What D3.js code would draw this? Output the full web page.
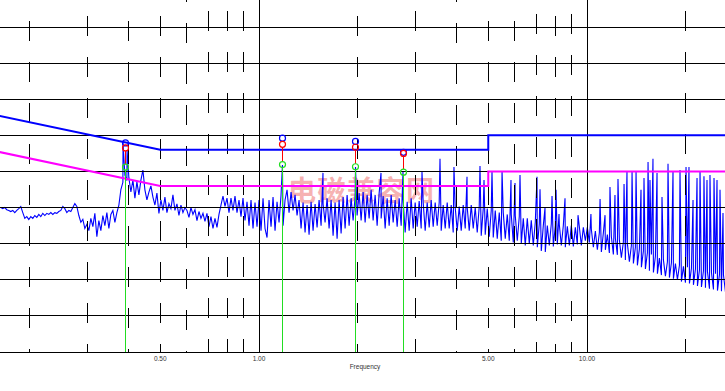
<!DOCTYPE html>
<html><head><meta charset="utf-8">
<script src="https://cdn.jsdelivr.net/npm/d3@7/dist/d3.min.js"></script>
<style>html,body{margin:0;padding:0;background:#fff;overflow:hidden}</style>
</head><body>
<svg id="chart" width="725" height="391"></svg>
<script>
// ---------- data ----------
// receiver sweep: 378 log-spaced points from 0.15 MHz to 30 MHz, level in dBµV
const sweepStartMHz = 0.15, sweepStopMHz = 30, sweepPoints = 378;
const spectrumDb = [
39.7,39.7,40.0,39.7,40.0,40.0,40.0,39.7,40.0,39.4,
39.2,38.9,39.2,38.6,39.2,39.7,40.3,38.6,37.0,37.5,
36.7,37.5,37.0,37.8,37.3,38.1,37.5,38.4,37.8,38.4,
38.1,38.6,38.1,38.6,38.4,38.9,39.2,40.3,39.7,38.6,
39.2,38.9,40.0,41.1,40.3,37.8,35.9,36.7,34.2,35.3,
33.6,37.0,34.7,38.4,31.9,36.4,33.6,37.8,35.0,38.6,
34.2,38.1,39.2,35.9,38.6,40.7,45.0,47.0,49.0,47.5,
48.2,44.3,47.6,42.6,47.1,43.5,47.6,50.4,44.9,42.1,
44.3,46.0,42.9,40.7,44.0,38.4,42.1,39.2,42.9,38.6,
41.1,39.7,43.5,39.2,41.0,37.8,40.7,38.6,40.0,39.2,
37.3,40.0,38.1,39.4,36.4,38.9,37.0,38.4,36.2,38.4,
34.7,37.5,34.2,37.0,34.5,38.1,40.7,43.2,40.3,42.6,
38.6,42.6,39.2,43.2,38.6,42.1,37.5,42.6,36.4,41.6,
35.0,42.1,34.2,41.4,34.7,42.1,33.6,42.6,34.2,31.7,
42.1,34.7,42.9,33.6,41.6,35.9,43.5,35.0,42.1,44.9,
38.6,44.3,39.2,43.5,37.8,42.1,34.2,41.4,33.1,40.7,
32.5,41.6,33.6,41.0,34.5,42.1,35.0,41.0,35.9,42.6,
34.2,42.1,32.2,41.4,31.4,42.1,32.8,42.9,34.2,43.5,
35.0,42.6,36.4,43.0,37.8,44.0,36.4,44.3,35.9,43.5,
37.0,44.9,36.4,43.5,35.0,44.0,37.0,43.2,34.2,42.6,
35.0,43.5,35.9,42.1,34.7,42.6,35.0,42.1,33.1,41.6,
33.6,42.6,34.2,41.4,34.7,41.8,34.2,41.4,33.6,41.4,
34.5,42.1,34.7,41.4,35.0,41.4,33.6,40.7,34.2,41.4,
34.2,40.7,33.1,40.0,33.6,40.3,33.6,40.7,34.2,40.0,
33.6,40.7,34.2,40.0,33.1,40.3,32.2,39.7,32.5,39.7,
31.9,39.2,31.7,39.2,31.4,38.6,30.8,38.6,31.4,38.1,
30.8,38.1,30.3,37.8,30.8,37.5,30.0,37.0,29.5,37.0,
30.0,36.5,29.5,36.0,29.0,35.5,28.0,35.0,27.7,35.0,
29.5,35.5,29.2,35.0,29.8,35.3,29.5,35.0,29.0,34.8,
29.5,35.0,29.2,34.5,29.8,34.7,29.5,34.5,30.8,34.5,
30.3,34.0,29.0,33.5,28.3,33.0,27.7,33.0,28.3,32.5,
27.4,32.0,27.0,31.5,26.9,31.0,26.1,30.5,25.5,30.0,
25.0,29.5,24.5,29.0,24.0,28.5,23.5,28.0,23.0,27.5,
22.5,27.0,22.0,26.5,21.7,26.0,21.3,25.5,21.0,25.0,
20.6,24.7,20.3,24.5,20.0,24.0,19.5,23.7,19.2,23.5,
19.0,23.2,18.6,23.0,18.3,22.7,18.0,22.5,17.8,22.3,
17.5,22.0,17.3,21.7,17.0,21.5,16.8,21.3,16.6,21.0,
16.5,20.8,16.3,20.6,16.1,20.4,16.0,20.2
];
// narrow emission peaks (harmonics) on top of the sweep
const spikeFreq = [0.385,0.396,1.179,1.567,1.969,2.355,2.748,3.140,3.563,3.930,
  4.307,4.718,4.853,5.133,5.508,5.865,6.033,6.248,7.041,7.190,
  7.447,7.823,8.046,8.216,8.570,9.389,10.28,10.96,11.35,11.75,
  12.17,12.43,12.97,13.24,13.72,14.11,14.61,14.92,15.35,15.56,
  15.89,16.35,16.93,17.66,18.29,19.21,20.04,20.46,21.05,21.65,
  22.11,22.73,23.22,23.71,24.39,24.91,25.44,25.98];
const spikeDb = [57.9,55.9,51.8,49.6,51.2,49.6,49.9,49.9,53.5,51.2,
  48.5,51.5,47.6,50.1,50.1,47.6,46.8,49.0,48.5,45.1,
  39.9,43.2,44.9,38.2,42.6,37.9,38.2,42.4,37.9,45.7,
  43.5,47.9,46.5,49.9,49.9,49.9,44.9,48.2,52.6,47.6,
  53.5,49.6,42.9,52.1,50.1,50.4,51.2,51.2,42.1,48.2,
  50.1,48.7,47.6,49.0,48.2,47.6,44.9,38.5];
// CISPR 22 class B limits
const limitFreq = [0.15, 0.5, 5, 5, 30];
const qpLimitDb = [66, 56, 56, 60, 60];
const avLimitDb = [56, 46, 46, 50, 50];
// final measurement markers
const markerFreq = [0.391, 1.178, 1.966, 2.75];
const peakDb = [57.9, 59.2, 58.3, 55.3];
const qpDb   = [56.5, 57.5, 56.7, 55.0];
const avDb   = [51.2, 51.9, 51.3, 49.8];
// axes
const yGrid = [0,10,20,30,40,50,60,70,80,90];
const majorFreq = [1, 10];
const minorFreq = [0.2,0.3,0.4,0.5,0.6,0.7,0.8,0.9,2,3,4,5,6,7,8,9,20];
const labelFreq = [0.5, 1, 5, 10];
const xTitle = "Frequency";
const watermark = "电磁兼容网";

// ---------- drawing ----------
const W = 725, H = 391, bottom = 352;
const svg = d3.select("#chart");
const x = d3.scaleLog().domain([1, 10]).range([259, 587]);
const y = d3.scaleLinear().domain([0, 90]).range([bottom, 27]);
const px = v => Math.floor(v) + 0.5;

svg.append("defs").append("clipPath").attr("id","plot")
  .append("rect").attr("x",0).attr("y",0).attr("width",W).attr("height",bottom+1);
const plot = svg.append("g").attr("clip-path","url(#plot)");

// watermark
plot.append("text").attr("x",288).attr("y",201)
  .attr("font-family","'Noto Sans CJK SC'").attr("font-weight","bold")
  .attr("font-size",28).attr("letter-spacing",1.5)
  .attr("fill","#f28f8f").attr("fill-opacity",0.7).text(watermark);

// spectrum
const sweep = spectrumDb.map((v,i)=>({f: sweepStartMHz*Math.pow(sweepStopMHz/sweepStartMHz, i/(sweepPoints-1)), v}));
const spikes = spikeFreq.map((f,i)=>({f, v: spikeDb[i]}));
const trace = sweep.concat(spikes).sort((a,b)=>a.f-b.f);
plot.append("path").datum(trace)
  .attr("d", d3.line().x(d=>x(d.f)).y(d=>y(d.v)))
  .attr("fill","none").attr("stroke","#0000ff").attr("stroke-width",1.1);

// grid
const grid = plot.append("g").attr("stroke","#000").attr("stroke-width",1);
grid.selectAll(".h").data(yGrid).join("line")
  .attr("x1",0).attr("x2",W).attr("y1",d=>px(y(d))).attr("y2",d=>px(y(d)));
grid.selectAll(".v").data(majorFreq).join("line")
  .attr("y1",0).attr("y2",bottom).attr("x1",d=>px(x(d))).attr("x2",d=>px(x(d)));
const dashPhase = {0.2:21,0.3:16,0.4:21,0.5:16,0.6:23,0.7:11,0.8:11,0.9:11,2:16,3:11,4:23,5:21,6:21,7:14,8:16,9:14,20:11};
grid.selectAll(".m").data(minorFreq).join("line")
  .attr("y1",0).attr("y2",bottom).attr("x1",d=>px(x(d))).attr("x2",d=>px(x(d)))
  .attr("stroke-dasharray","20 21")
  .attr("stroke-dashoffset",d=>41-(dashPhase[d]||0));

// limits
const lim = d3.line().x(d=>x(d[0])).y(d=>y(d[1]));
plot.append("path").datum(limitFreq.map((f,i)=>[f,avLimitDb[i]]))
  .attr("d",lim).attr("fill","none").attr("stroke","#ff00ff").attr("stroke-width",2);
plot.append("path").datum(limitFreq.map((f,i)=>[f,qpLimitDb[i]]))
  .attr("d",lim).attr("fill","none").attr("stroke","#0000ff").attr("stroke-width",2);

// markers
const mk = plot.append("g");
markerFreq.forEach((f,i)=>{
  const mx = px(x(f));
  mk.append("line").attr("x1",mx).attr("x2",mx).attr("y1",y(avDb[i])+3).attr("y2",bottom)
    .attr("stroke","#22dd22").attr("stroke-width",1);
  mk.append("line").attr("x1",mx).attr("x2",mx).attr("y1",y(qpDb[i])+3).attr("y2",y(avDb[i])-3)
    .attr("stroke","#ff0000").attr("stroke-width",1);
  mk.append("circle").attr("cx",mx).attr("cy",y(peakDb[i])).attr("r",3)
    .attr("fill","none").attr("stroke","#0000ff").attr("stroke-width",1.2);
  mk.append("circle").attr("cx",mx).attr("cy",y(avDb[i])).attr("r",3)
    .attr("fill","none").attr("stroke","#22dd22").attr("stroke-width",1.2);
  mk.append("circle").attr("cx",mx).attr("cy",y(qpDb[i])).attr("r",3)
    .attr("fill","none").attr("stroke","#ff0000").attr("stroke-width",1.2);
});

// axis labels
svg.selectAll(".xl").data(labelFreq).join("text")
  .attr("x",d=>x(d)).attr("y",360.5).attr("text-anchor","middle")
  .attr("font-family","'Liberation Sans', Arial, sans-serif").attr("font-size",6.5)
  .attr("fill","#333").text(d=>d3.format(".2f")(d));
svg.append("text").attr("x",365).attr("y",369).attr("text-anchor","middle")
  .attr("font-family","'Liberation Sans', Arial, sans-serif").attr("font-size",6.5)
  .attr("fill","#333").text(xTitle);
</script>
</body></html>
